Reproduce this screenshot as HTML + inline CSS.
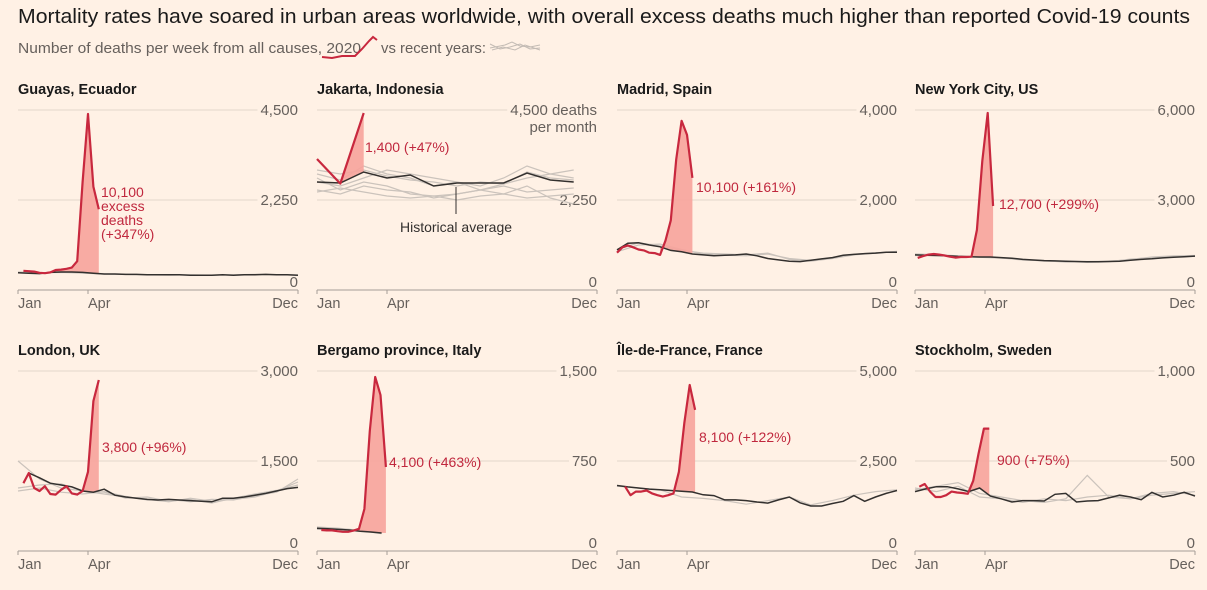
<!DOCTYPE html>
<html><head><meta charset="utf-8"><style>
html,body{margin:0;padding:0;background:#fff1e5;}
svg{display:block;font-family:"Liberation Sans",sans-serif;}
</style></head><body>
<svg id="chart" width="1207" height="590" viewBox="0 0 1207 590">
<rect x="0" y="0" width="1207" height="590" fill="#fff1e5"/>
<text x="18" y="23" font-size="20" fill="#1a1a1a" textLength="1172" lengthAdjust="spacingAndGlyphs">Mortality rates have soared in urban areas worldwide, with overall excess deaths much higher than reported Covid-19 counts</text>
<text x="18" y="53" font-size="14.5" fill="#66605c" textLength="343" lengthAdjust="spacingAndGlyphs">Number of deaths per week from all causes, 2020</text>
<path d="M322,57 L332,58 L342,56 L355,56 L362,49 L369,41 L373,37 L377,40" fill="none" stroke="#c8283e" stroke-width="2"/>
<text x="381" y="53" font-size="14.5" fill="#66605c" textLength="105" lengthAdjust="spacingAndGlyphs">vs recent years:</text>
<g fill="none" stroke="#c3bbb4" stroke-width="1">
<path d="M490,48 L505,45 L512,42 L520,46 L530,47 L540,45"/>
<path d="M490,44 L500,49 L510,47 L520,44 L530,49 L540,48"/>
<path d="M492,50 L503,47 L515,50 L525,45 L540,50"/>
</g>
<g id="panels"></g>
</svg>
<script>
// ---------- DATA ----------
const guayas2020Start = 1;
const guayas2020 = [480,470,460,430,420,440,500,510,530,560,720,2700,4400,2580,2020];
const guayasAvg = [430,420,410,440,450,450,440,420,400,400,390,390,380,380,380,380,370,370,370,380,370,380,380,390,380,380,370];
const guayasHist1 = [450,430,440,420,400,390,380,370,380,370,380,390,380,375];

const jakarta2020 = [3275,2660,4425];
const jakartaAvg = [2700,2675,2950,2800,2875,2600,2675,2675,2675,2925,2750,2700];
const jakartaHist1 = [2900,2750,3100,2900,2800,2600,2700,2500,2650,2800,2900,3000];
const jakartaHist2 = [2500,2400,2600,2500,2450,2300,2400,2500,2600,2450,2500,2550];
const jakartaHist3 = [2700,2600,2800,3000,2900,2800,2700,2600,2800,3100,2900,2800];
const jakartaHist4 = [2800,2500,2700,2600,2400,2350,2400,2500,2400,2600,2300,2150];
const jakartaHist5 = [3000,2900,3000,2850,2750,2700,2600,2700,2650,2950,2800,2750];
const jakartaHist6 = [2450,2550,2450,2350,2300,2350,2250,2350,2400,2300,2350,2400];

const madrid2020 = [830,950,990,950,900,880,830,820,780,1100,1550,2900,3760,3450,2490];
const madridAvg = [890,1040,1050,1000,960,880,850,800,780,760,770,780,800,760,700,670,640,630,660,690,720,770,790,810,820,840,840];
const madridHist1 = [900,1050,980,880,820,800,780,820,680,640,700,780,820,860];
const madridHist2 = [850,1000,1020,900,800,770,760,800,700,660,720,790,830,850];

const nyc2020Start = 0.5;
const nyc2020 = [1070,1130,1180,1200,1180,1150,1110,1080,1100,1100,1110,2000,4300,5900,2800];
const nycAvg = [1170,1160,1150,1140,1120,1110,1100,1100,1080,1060,1020,1000,980,970,960,950,940,940,950,960,990,1020,1040,1070,1090,1110,1130];
const nycHist1 = [1150,1160,1130,1090,1060,1020,960,950,920,940,1030,1080,1120,1130];
const nycHist2 = [1200,1180,1140,1110,1070,1000,980,930,950,960,1010,1100,1140,1150];

const london2020Start = 1;
const london2020 = [1130,1300,1050,1000,1080,950,940,1020,1080,960,940,1000,1320,2500,2850];
const londonAvgStart = 2;
const londonAvg = [1300,1220,1130,1100,1070,1000,980,1030,930,900,880,860,850,860,850,840,830,820,880,880,900,930,960,1000,1040,1060];
const londonHist1 = [1500,1200,1050,1000,950,900,860,820,880,830,860,900,1000,1150];
const londonHist2 = [1050,1100,1120,1000,980,880,900,830,860,800,880,950,1010,1100];
const londonHist3 = [1000,1050,980,950,990,910,850,860,820,860,850,920,980,1200];

const bergamo2020Start = 0.8;
const bergamo2020 = [175,172,172,165,160,160,170,185,350,1000,1450,1300,700];
const bergamoAvg = [190,185,180,175,165,158,150];
const bergamoHist1 = [200,190,170,145];
const bergamoHist2 = [180,185,175,150];

const idf2020Start = 1.5;
const idf2020 = [1790,1550,1650,1650,1680,1600,1550,1510,1550,1600,2200,3550,4610,3920];
const idfAvg = [1820,1780,1750,1720,1700,1680,1660,1640,1560,1540,1420,1420,1400,1360,1330,1420,1500,1340,1250,1250,1320,1380,1540,1380,1500,1600,1680];
const idfHist1 = [1800,1750,1700,1500,1460,1400,1300,1400,1500,1280,1400,1550,1650,1700];

const stockholm2020Start = 0.8;
const stockholm2020 = [357,372,330,300,300,310,330,325,322,318,390,540,680,680];
const stockholmAvg = [330,345,357,357,345,330,350,305,290,272,280,280,278,315,320,272,278,280,295,310,300,285,326,300,310,326,305];
const stockholmHist1 = [340,360,380,320,300,280,270,290,420,300,290,320,330,310];
const stockholmHist2 = [350,330,360,300,290,270,290,280,300,310,290,310,320,330];

const guayasTicks = ['4,500','2,250','0'];
const jakartaTicks = ['4,500 deaths','2,250','0'];
const madridTicks = ['4,000','2,000','0'];
const nycTicks = ['6,000','3,000','0'];
const londonTicks = ['3,000','1,500','0'];
const bergamoTicks = ['1,500','750','0'];
const idfTicks = ['5,000','2,500','0'];
const stockholmTicks = ['1,000','500','0'];
const monthLabels = ['Jan','Apr','Dec'];
const monthWeeks = [0,13,52];

// ---------- LAYOUT ----------
const MONTH = 52/12;
const panels = [
 {id:'guayas',title:'Guayas, Ecuador',x0:18,zy:290,max:4500,ticks:guayasTicks,
  red:{start:guayas2020Start,step:1,vals:guayas2020},avg:{start:0,step:2,vals:guayasAvg},
  hist:[{start:0,step:4,vals:guayasHist1}],
  note:['10,100','excess','deaths','(+347%)'],nx:101,ny:192},
 {id:'jakarta',title:'Jakarta, Indonesia',x0:317,zy:290,max:4500,ticks:jakartaTicks,
  red:{start:0,step:MONTH,vals:jakarta2020},avg:{start:0,step:MONTH,vals:jakartaAvg},
  hist:[jakartaHist1,jakartaHist2,jakartaHist3,jakartaHist4,jakartaHist5,jakartaHist6].map(v=>({start:0,step:MONTH,vals:v})),
  note:['1,400 (+47%)'],nx:365,ny:147},
 {id:'madrid',title:'Madrid, Spain',x0:617,zy:290,max:4000,ticks:madridTicks,
  red:{start:0,step:1,vals:madrid2020},avg:{start:0,step:2,vals:madridAvg},
  hist:[{start:0,step:4,vals:madridHist1},{start:0,step:4,vals:madridHist2}],
  note:['10,100 (+161%)'],nx:696,ny:187},
 {id:'nyc',title:'New York City, US',x0:915,zy:290,max:6000,ticks:nycTicks,
  red:{start:nyc2020Start,step:1,vals:nyc2020},avg:{start:0,step:2,vals:nycAvg},
  hist:[{start:0,step:4,vals:nycHist1},{start:0,step:4,vals:nycHist2}],
  note:['12,700 (+299%)'],nx:999,ny:204},
 {id:'london',title:'London, UK',x0:18,zy:551,max:3000,ticks:londonTicks,
  red:{start:london2020Start,step:1,vals:london2020},avg:{start:londonAvgStart,step:2,vals:londonAvg},
  hist:[{start:0,step:4,vals:londonHist1},{start:0,step:4,vals:londonHist2},{start:0,step:4,vals:londonHist3}],
  note:['3,800 (+96%)'],nx:102,ny:447},
 {id:'bergamo',title:'Bergamo province, Italy',x0:317,zy:551,max:1500,ticks:bergamoTicks,
  red:{start:bergamo2020Start,step:1,vals:bergamo2020},avg:{start:0,step:2,vals:bergamoAvg},
  hist:[{start:0,step:4,vals:bergamoHist1},{start:0,step:4,vals:bergamoHist2}],
  note:['4,100 (+463%)'],nx:389,ny:462},
 {id:'idf',title:'Île-de-France, France',x0:617,zy:551,max:5000,ticks:idfTicks,
  red:{start:idf2020Start,step:1,vals:idf2020},avg:{start:0,step:2,vals:idfAvg},
  hist:[{start:0,step:4,vals:idfHist1}],
  note:['8,100 (+122%)'],nx:699,ny:437},
 {id:'stockholm',title:'Stockholm, Sweden',x0:915,zy:551,max:1000,ticks:stockholmTicks,
  red:{start:stockholm2020Start,step:1,vals:stockholm2020},avg:{start:0,step:2,vals:stockholmAvg},
  hist:[{start:0,step:4,vals:stockholmHist1},{start:0,step:4,vals:stockholmHist2}],
  note:['900 (+75%)'],nx:997,ny:460}
];

const NS='http://www.w3.org/2000/svg';
const root=document.getElementById('panels');
function mk(tag,attrs,parent){const e=document.createElementNS(NS,tag);for(const k in attrs)e.setAttribute(k,attrs[k]);parent.appendChild(e);return e;}
function X(p,w){return p.x0+w*280/52;}
function Y(p,v){return p.zy-v/p.max*180;}
function wk(s,i){return s.start+i*s.step;}
function interp(s,w){let t=(w-s.start)/s.step;if(t<=0)return s.vals[0];const n=s.vals.length-1;if(t>=n)return s.vals[n];const i=Math.floor(t),f=t-i;return s.vals[i]*(1-f)+s.vals[i+1]*f;}
function pathOf(p,s){return s.vals.map((v,i)=>(i?'L':'M')+X(p,wk(s,i)).toFixed(1)+','+Y(p,v).toFixed(1)).join(' ');}

panels.forEach(p=>{
 const g=mk('g',{},root);
 
 
 const t=mk('text',{x:p.x0,y:p.zy-196,'font-size':14.5,'font-weight':'bold',fill:'#1a1a1a'},g);
 t.textContent=p.title;
 
 
 [p.max,p.max/2,0].forEach((v,i)=>{
  const y=Y(p,v);
  const lab=mk('text',{x:p.x0+280,y:(i===2?p.zy-3:y+5),'font-size':15,fill:'#66605c','text-anchor':'end'},g);
  lab.textContent=p.ticks[i];
  
  
  if(i<2){
   const lw=lab.getComputedTextLength();
   const gl=mk('line',{x1:p.x0,x2:p.x0+280-lw-3,y1:y,y2:y,stroke:'#e3d6cb','stroke-width':1},g);
   
   
  }
 });
 if(p.id==='jakarta'){
  const l2=mk('text',{x:p.x0+280,y:Y(p,p.max)+22,'font-size':15,fill:'#66605c','text-anchor':'end'},g);
  l2.textContent='per month';
  
  
 }
 const ax=mk('line',{x1:p.x0,x2:p.x0+280,y1:p.zy,y2:p.zy,stroke:'#a59d96','stroke-width':1},g);
 
 
 monthWeeks.forEach((w,i)=>{
  const x=X(p,w);
  const tk=mk('line',{x1:x,x2:x,y1:p.zy,y2:p.zy+4,stroke:'#a59d96','stroke-width':1},g);
  
  
  const tl=mk('text',{x:x,y:p.zy+18,'font-size':14.5,fill:'#66605c','text-anchor':(i===2?'end':'start')},g);
  tl.textContent=monthLabels[i];
  
  
 });
 p.hist.forEach(s=>{
  const h=mk('path',{d:pathOf(p,s),fill:'none',stroke:'#cbc3bc','stroke-width':1.2},g);
  
  
 });
 const r=p.red;let j=r.vals.length-1;
 while(j>0 && r.vals[j-1]>interp(p.avg,wk(r,j-1)))j--;
 const s0=Math.max(0,j-1);
 let d='';
 for(let i=s0;i<r.vals.length;i++)d+=(i===s0?'M':'L')+X(p,wk(r,i)).toFixed(1)+','+Y(p,r.vals[i]).toFixed(1)+' ';
 for(let i=r.vals.length-1;i>=s0;i--){const w=wk(r,i);d+='L'+X(p,w).toFixed(1)+','+Y(p,interp(p.avg,w)).toFixed(1)+' ';}
 const f=mk('path',{d:d+'Z',fill:'#f7a39b',opacity:0.9},g);
 
 
 const a=mk('path',{d:pathOf(p,p.avg),fill:'none',stroke:'#33302e','stroke-width':1.5},g);
 
 
 const rl=mk('path',{d:pathOf(p,r),fill:'none',stroke:'#c8283e','stroke-width':2.2,'stroke-linejoin':'round'},g);
 
 
 const an=mk('text',{x:p.nx,y:p.ny+5,'font-size':14,fill:'#c0283e'},g);
 
 
 p.note.forEach((ln,i)=>{const ts=mk('tspan',{x:p.nx,dy:(i?14:0)},an);ts.textContent=ln;});
 if(p.id==='jakarta'){
  const hl=mk('line',{x1:456,x2:456,y1:187,y2:214,stroke:'#33302e','stroke-width':1},g);
  
  
  const ht=mk('text',{x:456,y:232,'font-size':14,fill:'#33302e','text-anchor':'middle'},g);
  ht.textContent='Historical average';
  
  
 }
});
</script>
</body></html>
